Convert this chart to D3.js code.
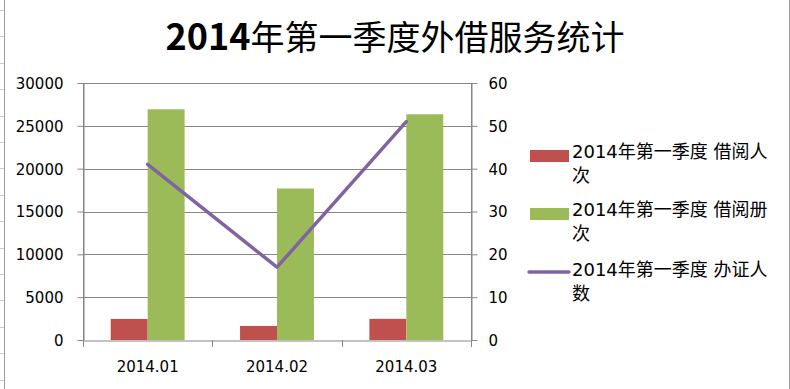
<!DOCTYPE html>
<html>
<head>
<meta charset="utf-8">
<script src="https://cdn.jsdelivr.net/npm/d3@7"></script>
<style>
  body { margin: 0; background: #fff; }
  svg { display: block; }
</style>
</head>
<body>
<script>
// values
const months = ["2014.01", "2014.02", "2014.03"];
const borrowCount = [2460, 1640, 2470]; // 借阅人次
const booksCount = [26930, 17680, 26350]; // 借阅册次
const cardCount = [41, 17, 51]; // 办证人数 (right axis)
const leftTicks = [0, 5000, 10000, 15000, 20000, 25000, 30000];
const rightTicks = [0, 10, 20, 30, 40, 50, 60];
const legendLines = [
  ["2014年第一季度 借阅人", "次"],
  ["2014年第一季度 借阅册", "次"],
  ["2014年第一季度 办证人", "数"],
];

const width = 790;
const height = 389;
const plot = { left: 83, right: 471, top: 83, bottom: 340 };
const red = "#C0504D";
const green = "#9BBB59";
const purple = "#8064A2";
const gridColor = "#868686";
const tickFont = "'DejaVu Sans', 'Noto Sans CJK SC', sans-serif";

const svg = d3
  .select("body")
  .append("svg")
  .attr("width", width)
  .attr("height", height);

// spreadsheet edge lines behind the chart
svg.append("line")
  .attr("x1", 4.5).attr("x2", 4.5).attr("y1", 0).attr("y2", height)
  .attr("stroke", "#9a9a9a");
svg.selectAll("line.row")
  .data(d3.range(10, height, 26.4))
  .join("line")
  .attr("class", "row")
  .attr("x1", 0).attr("x2", 4)
  .attr("y1", (d) => Math.round(d) + 0.5)
  .attr("y2", (d) => Math.round(d) + 0.5)
  .attr("stroke", "#c8c8c8");
svg.append("line")
  .attr("x1", 789.5).attr("x2", 789.5).attr("y1", 0).attr("y2", height)
  .attr("stroke", "#9a9a9a");

// title: bold digits, lighter CJK like the original
const title = svg.append("text")
  .attr("x", width / 2)
  .attr("y", 50)
  .attr("text-anchor", "middle")
  .attr("font-family", "'Noto Sans CJK SC', sans-serif")
  .attr("fill", "#000");
title.append("tspan").attr("font-weight", "bold").attr("font-size", "36px").text("2014");
title.append("tspan").attr("font-weight", "normal").attr("font-size", "34px").text("年第一季度外借服务统计");

// scales
const x = d3.scaleBand().domain(months).range([plot.left, plot.right]).padding(0);
const xSeries = d3.scaleBand()
  .domain(["borrow", "books"])
  .range([0, x.bandwidth()])
  .paddingInner(0)
  .paddingOuter(0.75);
const yLeft = d3.scaleLinear().domain([0, 30000]).range([plot.bottom, plot.top]);
const yRight = d3.scaleLinear().domain([0, 60]).range([plot.bottom, plot.top]);

// gridlines
svg.selectAll("line.grid")
  .data(leftTicks.slice(1))
  .join("line")
  .attr("class", "grid")
  .attr("x1", plot.left).attr("x2", plot.right)
  .attr("y1", (d) => Math.round(yLeft(d)) + 0.5)
  .attr("y2", (d) => Math.round(yLeft(d)) + 0.5)
  .attr("stroke", gridColor);

// bars
const barData = months.map((m, i) => ({ month: m, borrow: borrowCount[i], books: booksCount[i] }));
const groups = svg.selectAll("g.month")
  .data(barData)
  .join("g")
  .attr("class", "month")
  .attr("transform", (d) => `translate(${x(d.month)},0)`);

groups.append("rect")
  .attr("x", xSeries("borrow"))
  .attr("width", xSeries.bandwidth())
  .attr("y", (d) => yLeft(d.borrow))
  .attr("height", (d) => plot.bottom - yLeft(d.borrow))
  .attr("fill", red);

groups.append("rect")
  .attr("x", xSeries("books"))
  .attr("width", xSeries.bandwidth())
  .attr("y", (d) => yLeft(d.books))
  .attr("height", (d) => plot.bottom - yLeft(d.books))
  .attr("fill", green);

// axes
const leftAxis = svg.append("g")
  .attr("transform", `translate(${plot.left + 0.5},0)`)
  .call(d3.axisLeft(yLeft).tickValues(leftTicks).tickFormat(d3.format("d"))
    .tickSize(6).tickPadding(14).tickSizeOuter(0));
const rightAxis = svg.append("g")
  .attr("transform", `translate(${plot.right + 0.5},0)`)
  .call(d3.axisRight(yRight).tickValues(rightTicks).tickFormat(d3.format("d"))
    .tickSize(6).tickPadding(11).tickSizeOuter(0));
const bottomAxis = svg.append("g")
  .attr("transform", `translate(0,${plot.bottom + 0.5})`)
  .call(d3.axisBottom(x).tickSize(0).tickPadding(21).tickSizeOuter(0));

[leftAxis, rightAxis, bottomAxis].forEach((ax) => {
  ax.select(".domain").attr("stroke", gridColor);
  ax.selectAll(".tick line").attr("stroke", gridColor);
  ax.selectAll("text")
    .attr("font-family", tickFont)
    .attr("font-size", "15px")
    .attr("fill", "#000");
});
leftAxis.selectAll(".tick text").attr("dy", "0.36em");
rightAxis.selectAll(".tick text").attr("dy", "0.36em");

// vertical axis lines run a little below zero, like the category ticks
[plot.left, plot.right].forEach((px) => {
  svg.append("line")
    .attr("x1", px + 0.5).attr("x2", px + 0.5)
    .attr("y1", plot.top).attr("y2", plot.bottom + 7)
    .attr("stroke", gridColor);
});
// category boundary ticks
svg.selectAll("line.cat")
  .data(months.map((m) => x(m)).concat([plot.right]))
  .join("line")
  .attr("class", "cat")
  .attr("x1", (d) => Math.round(d) + 0.5)
  .attr("x2", (d) => Math.round(d) + 0.5)
  .attr("y1", plot.bottom)
  .attr("y2", plot.bottom + 7)
  .attr("stroke", gridColor);

// line on right axis
const line = d3.line()
  .x((d, i) => x(months[i]) + x.bandwidth() / 2)
  .y((d) => yRight(d));
svg.append("path")
  .datum(cardCount)
  .attr("d", line)
  .attr("fill", "none")
  .attr("stroke", purple)
  .attr("stroke-width", 3.5)
  .attr("stroke-linejoin", "round")
  .attr("stroke-linecap", "round");

// legend
const legendTop = [158, 216, 276];
const legend = svg.selectAll("g.legend")
  .data(legendLines)
  .join("g")
  .attr("class", "legend")
  .attr("transform", (d, i) => `translate(0,${legendTop[i]})`);

legend.each(function (d, i) {
  const g = d3.select(this);
  if (i < 2) {
    g.append("rect")
      .attr("x", 530).attr("y", -8)
      .attr("width", 39).attr("height", 12)
      .attr("fill", i === 0 ? red : green);
  } else {
    g.append("line")
      .attr("x1", 529).attr("x2", 569)
      .attr("y1", -4).attr("y2", -4)
      .attr("stroke", purple)
      .attr("stroke-width", 3.5)
      .attr("stroke-linecap", "round");
  }
  g.selectAll("text")
    .data(d)
    .join("text")
    .attr("x", 572)
    .attr("y", (t, j) => j * 24)
    .attr("font-family", tickFont)
    .attr("font-size", "18px")
    .attr("fill", "#000")
    .text((t) => t);
});
</script>
</body>
</html>
